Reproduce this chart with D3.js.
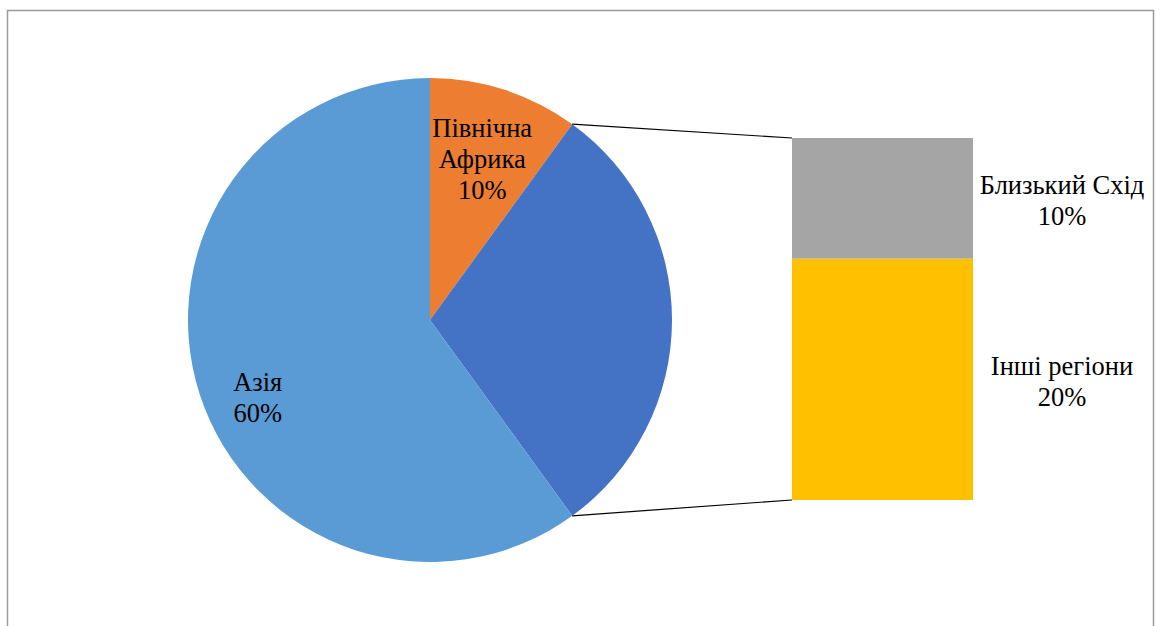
<!DOCTYPE html>
<html>
<head>
<meta charset="utf-8">
<script src="https://cdn.jsdelivr.net/npm/d3@7"></script>
<style>
  html, body { margin: 0; padding: 0; background: #fff; }
  svg { display: block; }
</style>
</head>
<body>
<svg id="chart" width="1161" height="626"></svg>
<script>
// Pie part: the "other" slice is broken out into the stacked bar on the right
const pieCategories = ["Північна Африка", "Інші", "Азія"];
const pieValues = [10, 30, 60];
const pieColors = ["#ED7D31", "#4472C4", "#5B9BD5"];
const pieLabelLines = [["Північна", "Африка", "10%"], null, ["Азія", "60%"]];

// Bar part (bottom to top)
const barCategories = ["Інші регіони", "Близький Схід"];
const barValues = [20, 10];
const barColors = ["#FFC000", "#A5A5A5"];
const barLabelLines = [["Інші регіони", "20%"], ["Близький Схід", "10%"]];

const svg = d3.select("#chart");
const FONT = "Liberation Serif, Times New Roman, serif";

// chart frame
svg.append("rect")
  .attr("x", 7.5).attr("y", 10.5)
  .attr("width", 1146).attr("height", 640)
  .attr("fill", "none").attr("stroke", "#9a9a9a").attr("stroke-width", 1.5);

const cx = 430, cy = 320, R = 242;
const fontSize = 26.5, lineH = 31;

const pie = d3.pie().sort(null).value(d => d).startAngle(0).endAngle(2 * Math.PI);
const arcs = pie(pieValues);
const arc = d3.arc().innerRadius(0).outerRadius(R);

const g = svg.append("g").attr("transform", `translate(${cx},${cy})`);
g.selectAll("path.slice")
  .data(arcs)
  .join("path")
  .attr("class", "slice")
  .attr("d", arc)
  .attr("fill", (d, i) => pieColors[i]);

function multiline(parent, x, cyBlock, lines) {
  const t = parent.append("text")
    .attr("text-anchor", "middle")
    .attr("font-family", FONT)
    .attr("font-size", fontSize)
    .attr("fill", "#000");
  const y0 = cyBlock - (lines.length - 1) * lineH / 2 + fontSize * 0.33;
  lines.forEach((ln, k) => {
    t.append("tspan").attr("x", x).attr("y", y0 + k * lineH).text(ln);
  });
}

// label placement: radius within the slice and a small nudge in px
const labelRadius = [169, 0, 178];
const labelNudge = [[0, 0], [0, 0], [-3, 23]];
arcs.forEach((a, i) => {
  const lines = pieLabelLines[i];
  if (!lines) return;
  const mid = (a.startAngle + a.endAngle) / 2;
  const x = labelRadius[i] * Math.sin(mid) + labelNudge[i][0];
  const y = -labelRadius[i] * Math.cos(mid) + labelNudge[i][1];
  multiline(g, x, y, lines);
});

// stacked bar
const barX = 792, barW = 181;
const total = d3.sum(barValues);
const yScale = d3.scaleLinear().domain([0, total]).range([500, 138]);
const stackStarts = d3.cumsum([0, ...barValues]).slice(0, barValues.length);

svg.selectAll("rect.seg")
  .data(barValues)
  .join("rect")
  .attr("class", "seg")
  .attr("x", barX)
  .attr("width", barW)
  .attr("y", (d, i) => yScale(stackStarts[i] + d))
  .attr("height", (d, i) => yScale(stackStarts[i]) - yScale(stackStarts[i] + d))
  .attr("fill", (d, i) => barColors[i]);

barValues.forEach((d, i) => {
  multiline(svg, 1062, yScale(stackStarts[i] + d / 2) + 2, barLabelLines[i]);
});

// connector lines from the broken-out slice to the bar
const other = arcs[1];
const p1 = [cx + R * Math.sin(other.startAngle), cy - R * Math.cos(other.startAngle)];
const p2 = [cx + R * Math.sin(other.endAngle), cy - R * Math.cos(other.endAngle)];
svg.append("line")
  .attr("x1", p1[0]).attr("y1", p1[1])
  .attr("x2", barX).attr("y2", yScale(total))
  .attr("stroke", "#000").attr("stroke-width", 1.2);
svg.append("line")
  .attr("x1", p2[0]).attr("y1", p2[1])
  .attr("x2", barX).attr("y2", yScale(0))
  .attr("stroke", "#000").attr("stroke-width", 1.2);
</script>
</body>
</html>
